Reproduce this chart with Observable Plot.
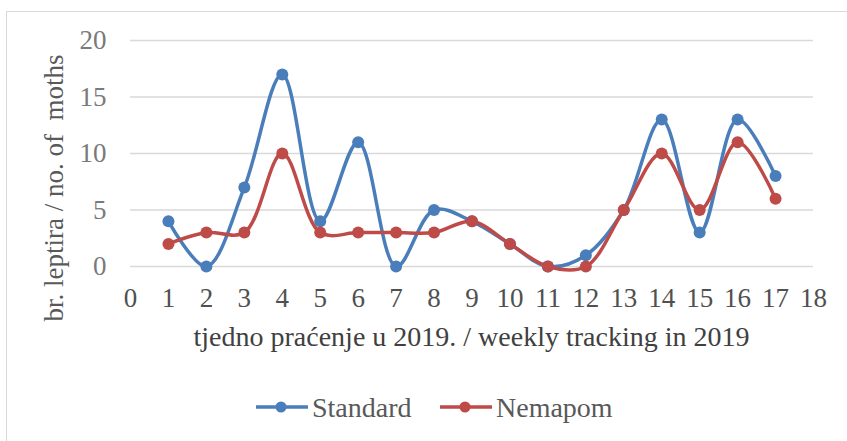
<!DOCTYPE html>
<html>
<head>
<meta charset="utf-8">
<script src="https://cdn.jsdelivr.net/npm/d3@7"></script>
<script src="https://cdn.jsdelivr.net/npm/@observablehq/plot@0.6"></script>
<style>
  body { margin: 0; background: #fff; }
  #chart { position: relative; width: 847px; height: 441px; overflow: hidden; }
  #chart svg, #chart svg text { font-family: "Liberation Serif" !important; }
</style>
</head>
<body>
<div id="chart"></div>
<script>
// ---- data ----
const weeks = [1, 2, 3, 4, 5, 6, 7, 8, 9, 10, 11, 12, 13, 14, 15, 16, 17];
const standard = [4, 0, 7, 17, 4, 11, 0, 5, 4, 2, 0, 1, 5, 13, 3, 13, 8];
const nemapom = [2, 3, 3, 10, 3, 3, 3, 3, 4, 2, 0, 0, 5, 10, 5, 11, 6];
const seriesNames = ["Standard", "Nemapom"];
const seriesColors = ["#4a7ebb", "#be4b48"];
const xTicks = [0, 1, 2, 3, 4, 5, 6, 7, 8, 9, 10, 11, 12, 13, 14, 15, 16, 17, 18];
const yTicks = [0, 5, 10, 15, 20];
const xLabel = "tjedno praćenje u 2019. / weekly tracking in 2019";
const yLabel = "br. leptira / no. of\u00a0 moths";

const rows = [];
seriesNames.forEach((name, si) => {
  const vals = si === 0 ? standard : nemapom;
  weeks.forEach((w, i) => rows.push({ week: w, value: vals[i], series: name }));
});

const font = "Liberation Serif";

const svg = Plot.plot({
  width: 847,
  height: 441,
  marginLeft: 130,
  marginRight: 34,
  marginTop: 40,
  marginBottom: 175,
  style: { fontFamily: font, fontSize: "27px", background: "transparent" },
  x: { domain: [0, 18], ticks: xTicks },
  y: { domain: [0, 20], ticks: yTicks },
  color: { domain: seriesNames, range: seriesColors },
  marks: [
    Plot.gridY(yTicks, { stroke: "#d9d9d9", strokeOpacity: 1, strokeWidth: 1.4 }),
    Plot.axisX(xTicks, { tickSize: 0, tickPadding: 21, fill: "#505050", fontSize: 27, label: null }),
    Plot.axisY(yTicks, { tickSize: 0, tickPadding: 24, fill: "#7a7a7a", fontSize: 27, label: null }),
    Plot.line(rows, { x: "week", y: "value", z: "series", stroke: "series", curve: "catmull-rom", strokeWidth: 3.5 }),
    Plot.dot(rows, { x: "week", y: "value", fill: "series", r: 6 })
  ]
});

const s = d3.select(svg);
// border (top + left visible)
s.insert("rect", ":first-child")
  .attr("x", 6.5).attr("y", 11.5).attr("width", 900).attr("height", 500)
  .attr("fill", "none").attr("stroke", "#d9d9d9");

// y label
s.append("text")
  .attr("transform", "translate(63,188) rotate(-90)")
  .attr("text-anchor", "middle")
  .attr("fill", "#595959")
  .attr("font-family", font).attr("font-size", 27)
  .text(yLabel);

// x label
s.append("text")
  .attr("x", 471.5).attr("y", 346)
  .attr("text-anchor", "middle")
  .attr("fill", "#404040")
  .attr("font-family", font).attr("font-size", 28)
  .text(xLabel);

// legend
const leg = s.append("g").attr("transform", "translate(256,407)");
const legX = [0, 184];
seriesNames.forEach((name, i) => {
  const g = leg.append("g").attr("transform", `translate(${legX[i]},0)`);
  g.append("line").attr("x1", 0).attr("x2", 52).attr("y1", 0).attr("y2", 0)
    .attr("stroke", seriesColors[i]).attr("stroke-width", 3.5);
  g.append("circle").attr("cx", 25).attr("cy", 0).attr("r", 5.5).attr("fill", seriesColors[i]);
  g.append("text").attr("x", 56).attr("y", 10)
    .attr("text-anchor", "start")
    .attr("fill", "#595959")
    .attr("font-family", font).attr("font-size", 28)
    .text(name);
});

document.getElementById("chart").appendChild(svg);
</script>
</body>
</html>
